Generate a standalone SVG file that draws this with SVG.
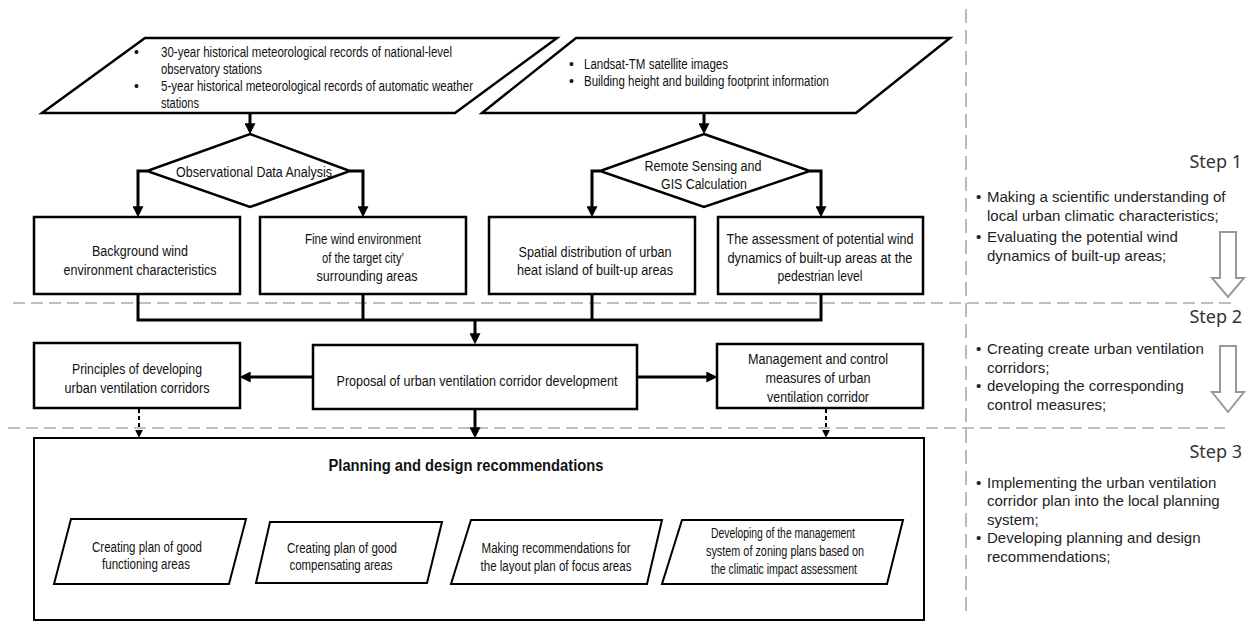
<svg xmlns="http://www.w3.org/2000/svg" width="1251" height="622" viewBox="0 0 1251 622">
  <defs>
    <style>
      .box{fill:#fff;stroke:#000;stroke-width:2.5}
      .sbox{fill:#fff;stroke:#000;stroke-width:2}
      .t{font-family:"Liberation Sans",Arial,sans-serif;fill:#111;dominant-baseline:central}
      .c{text-anchor:middle}
      .f13{font-size:14px}
      .f14{font-size:15.5px}
      .title{font-size:16px;font-weight:bold}
      .con{fill:none;stroke:#000;stroke-width:3}
      .thin{fill:none;stroke:#000;stroke-width:1.6}
      .dash{fill:none;stroke:#000;stroke-width:2;stroke-dasharray:4 3}
      .guide{fill:none;stroke:#aaa;stroke-width:1.6}
      .gh{stroke-dasharray:12 6}
      .gv{stroke-dasharray:14 7}
      .side{font-family:"Liberation Sans",Arial,sans-serif;font-size:15px;fill:#222;dominant-baseline:central}
      .step{font-family:"Noto Sans","Open Sans",sans-serif;font-size:18px;fill:#333;text-anchor:end}
      .hollow{fill:#fff;stroke:#999;stroke-width:2}
    </style>
    <marker id="ah" viewBox="0 0 10 10" refX="7" refY="5" markerWidth="11" markerHeight="11" markerUnits="userSpaceOnUse" orient="auto">
      <path d="M0,0 L10,5 L0,10 z" fill="#000"/>
    </marker>
    <marker id="ahs" viewBox="0 0 10 10" refX="9" refY="5" markerWidth="8" markerHeight="8" markerUnits="userSpaceOnUse" orient="auto">
      <path d="M0,0 L10,5 L0,10 z" fill="#000"/>
    </marker>
  </defs>

  <!-- stage separators -->
  <g id="guides">
    <line class="guide gh" x1="13" y1="303" x2="1237" y2="303"/>
    <line class="guide gh" x1="8" y1="428" x2="1225" y2="428"/>
    <line class="guide gv" x1="966" y1="9" x2="966" y2="615"/>
  </g>

  <!-- connectors -->
  <g id="connectors">
    <line class="con" x1="250" y1="113" x2="250" y2="131" marker-end="url(#ah)"/>
    <line class="con" x1="704" y1="113" x2="704" y2="131" marker-end="url(#ah)"/>
    <polyline class="con" points="147,171 138,171 138,214" marker-end="url(#ah)"/>
    <polyline class="con" points="350,171 363,171 363,214" marker-end="url(#ah)"/>
    <polyline class="con" points="600,171 592,171 592,214" marker-end="url(#ah)"/>
    <polyline class="con" points="810,171 821,171 821,214" marker-end="url(#ah)"/>
    <polyline class="con" points="138,294 138,320 821,320 821,294"/>
    <line class="con" x1="363" y1="294" x2="363" y2="320"/>
    <line class="con" x1="592" y1="294" x2="592" y2="320"/>
    <line class="con" x1="475" y1="320" x2="475" y2="341" marker-end="url(#ah)"/>
    <line class="con" x1="313" y1="377" x2="243" y2="377" marker-end="url(#ah)"/>
    <line class="con" x1="637" y1="377" x2="714" y2="377" marker-end="url(#ah)"/>
    <line class="con" x1="475" y1="409" x2="475" y2="435" marker-end="url(#ah)"/>
    <line class="dash" x1="139" y1="409" x2="139" y2="437" marker-end="url(#ahs)"/>
    <line class="dash" x1="826" y1="409" x2="826" y2="437" marker-end="url(#ahs)"/>
    <polyline class="thin" points="154,519 154,485 826,485 826,519" marker-end="url(#ahs)"/>
    <line class="thin" x1="154" y1="486" x2="154" y2="518" marker-end="url(#ahs)"/>
    <line class="thin" x1="351" y1="485" x2="351" y2="521" marker-end="url(#ahs)"/>
    <line class="thin" x1="557" y1="485" x2="557" y2="519" marker-end="url(#ahs)"/>
  </g>

  <!-- input data -->
  <g id="obs-data">
    <polygon class="box" points="145,38 557,38 455,113 42,113"/>
    <text class="t f13" x="134" y="52">•</text>
    <text class="t f13" x="161" y="52" textLength="291" lengthAdjust="spacingAndGlyphs">30-year historical meteorological records of national-level</text>
    <text class="t f13" x="161" y="69" textLength="101" lengthAdjust="spacingAndGlyphs">observatory stations</text>
    <text class="t f13" x="134" y="86">•</text>
    <text class="t f13" x="161" y="86" textLength="312" lengthAdjust="spacingAndGlyphs">5-year historical meteorological records of automatic weather</text>
    <text class="t f13" x="161" y="103" textLength="38" lengthAdjust="spacingAndGlyphs">stations</text>
  </g>
  <g id="rs-data">
    <polygon class="box" points="576,38 950,38 856,113 482,113"/>
    <text class="t f13" x="569" y="64">•</text>
    <text class="t f13" x="584" y="64" textLength="144" lengthAdjust="spacingAndGlyphs">Landsat-TM satellite images</text>
    <text class="t f13" x="569" y="81">•</text>
    <text class="t f13" x="584" y="81" textLength="245" lengthAdjust="spacingAndGlyphs">Building height and building footprint information</text>
  </g>

  <!-- analysis steps -->
  <g id="obs-analysis">
    <polygon class="box" points="250,134 350,171 250,207 147,171"/>
    <text class="t f14 c" x="254" y="171" textLength="156" lengthAdjust="spacingAndGlyphs">Observational Data Analysis</text>
  </g>
  <g id="rs-analysis">
    <polygon class="box" points="704,134 810,171 704,207 600,171"/>
    <text class="t f14 c" x="703" y="165" textLength="117" lengthAdjust="spacingAndGlyphs">Remote Sensing and</text>
    <text class="t f14 c" x="704" y="183" textLength="86" lengthAdjust="spacingAndGlyphs">GIS Calculation</text>
  </g>

  <!-- step 1 results -->
  <g id="background-wind">
    <rect class="box" x="34" y="217" width="206" height="77"/>
    <text class="t f14 c" x="140" y="250" textLength="96" lengthAdjust="spacingAndGlyphs">Background wind</text>
    <text class="t f14 c" x="140" y="269" textLength="153" lengthAdjust="spacingAndGlyphs">environment characteristics</text>
  </g>
  <g id="fine-wind">
    <rect class="box" x="260" y="217" width="206" height="77"/>
    <text class="t f14 c" x="363" y="238" textLength="116" lengthAdjust="spacingAndGlyphs">Fine wind environment</text>
    <text class="t f14 c" x="363" y="257" textLength="82" lengthAdjust="spacingAndGlyphs">of the target city’</text>
    <text class="t f14 c" x="367" y="275" textLength="101" lengthAdjust="spacingAndGlyphs">surrounding areas</text>
  </g>
  <g id="heat-island">
    <rect class="box" x="489" y="217" width="206" height="77"/>
    <text class="t f14 c" x="595" y="251" textLength="153" lengthAdjust="spacingAndGlyphs">Spatial distribution of urban</text>
    <text class="t f14 c" x="595" y="269" textLength="156" lengthAdjust="spacingAndGlyphs">heat island of built-up areas</text>
  </g>
  <g id="wind-dynamics">
    <rect class="box" x="718" y="217" width="205" height="77"/>
    <text class="t f14 c" x="820" y="238" textLength="187" lengthAdjust="spacingAndGlyphs">The assessment of potential wind</text>
    <text class="t f14 c" x="820" y="257" textLength="185" lengthAdjust="spacingAndGlyphs">dynamics of built-up areas at the</text>
    <text class="t f14 c" x="820" y="275" textLength="85" lengthAdjust="spacingAndGlyphs">pedestrian level</text>
  </g>

  <!-- step 2 -->
  <g id="principles">
    <rect class="box" x="34" y="343" width="206" height="65"/>
    <text class="t f14 c" x="137" y="368" textLength="130" lengthAdjust="spacingAndGlyphs">Principles of developing</text>
    <text class="t f14 c" x="137" y="387" textLength="145" lengthAdjust="spacingAndGlyphs">urban ventilation corridors</text>
  </g>
  <g id="proposal">
    <rect class="box" x="313" y="345" width="324" height="64"/>
    <text class="t f14 c" x="477" y="380" textLength="281" lengthAdjust="spacingAndGlyphs">Proposal of urban ventilation corridor development</text>
  </g>
  <g id="management">
    <rect class="box" x="717" y="344" width="206" height="64"/>
    <text class="t f14 c" x="818" y="358" textLength="140" lengthAdjust="spacingAndGlyphs">Management and control</text>
    <text class="t f14 c" x="818" y="377" textLength="105" lengthAdjust="spacingAndGlyphs">measures of urban</text>
    <text class="t f14 c" x="818" y="396" textLength="102" lengthAdjust="spacingAndGlyphs">ventilation corridor</text>
  </g>

  <!-- step 3 -->
  <g id="recommendations">
    <rect class="sbox" x="34" y="438" width="890" height="182"/>
    <text class="t title c" x="466" y="465" textLength="275" lengthAdjust="spacingAndGlyphs">Planning and design recommendations</text>
  </g>
  <g id="functioning-areas">
    <polygon class="sbox" points="71,519 246,519 229,584 54,584"/>
    <text class="t f13 c" x="147" y="547" textLength="110" lengthAdjust="spacingAndGlyphs">Creating plan of good</text>
    <text class="t f13 c" x="146" y="564" textLength="88" lengthAdjust="spacingAndGlyphs">functioning areas</text>
  </g>
  <g id="compensating-areas">
    <polygon class="sbox" points="270,522 442,522 427,583 256,583"/>
    <text class="t f13 c" x="342" y="548" textLength="110" lengthAdjust="spacingAndGlyphs">Creating plan of good</text>
    <text class="t f13 c" x="341" y="565" textLength="103" lengthAdjust="spacingAndGlyphs">compensating areas</text>
  </g>
  <g id="focus-areas">
    <polygon class="sbox" points="471,520 662,520 647,584 451,584"/>
    <text class="t f13 c" x="556" y="548" textLength="149" lengthAdjust="spacingAndGlyphs">Making recommendations for</text>
    <text class="t f13 c" x="556" y="566" textLength="151" lengthAdjust="spacingAndGlyphs">the layout plan of focus areas</text>
  </g>
  <g id="zoning-system">
    <polygon class="sbox" points="682,520 903,520 887,584 662,584"/>
    <text class="t f13 c" x="783" y="533" textLength="144" lengthAdjust="spacingAndGlyphs">Developing of the management</text>
    <text class="t f13 c" x="785" y="551" textLength="158" lengthAdjust="spacingAndGlyphs">system of zoning plans based on</text>
    <text class="t f13 c" x="784" y="569" textLength="146" lengthAdjust="spacingAndGlyphs">the climatic impact assessment</text>
  </g>

  <!-- stage descriptions -->
  <g id="step1">
    <text class="step" x="1242" y="168">Step 1</text>
    <text class="side" x="976" y="196">•</text>
    <text class="side" x="987" y="196">Making a scientific understanding of</text>
    <text class="side" x="987" y="215">local urban climatic characteristics;</text>
    <text class="side" x="976" y="236">•</text>
    <text class="side" x="987" y="236">Evaluating the potential wind</text>
    <text class="side" x="987" y="255">dynamics of built-up areas;</text>
    <path class="hollow" d="M1220,232 H1236 V278 H1244 L1228,297 L1212,278 H1220 Z"/>
  </g>
  <g id="step2">
    <text class="step" x="1242" y="323">Step 2</text>
    <text class="side" x="976" y="348">•</text>
    <text class="side" x="987" y="348">Creating create urban ventilation</text>
    <text class="side" x="987" y="367">corridors;</text>
    <text class="side" x="976" y="385">•</text>
    <text class="side" x="987" y="385">developing the corresponding</text>
    <text class="side" x="987" y="404">control measures;</text>
    <path class="hollow" d="M1220,346 H1236 V392 H1244 L1228,412 L1212,392 H1220 Z"/>
  </g>
  <g id="step3">
    <text class="step" x="1242" y="458">Step 3</text>
    <text class="side" x="976" y="482">•</text>
    <text class="side" x="987" y="482">Implementing the urban ventilation</text>
    <text class="side" x="987" y="500">corridor plan into the local planning</text>
    <text class="side" x="987" y="519">system;</text>
    <text class="side" x="976" y="537">•</text>
    <text class="side" x="987" y="537">Developing planning and design</text>
    <text class="side" x="987" y="556">recommendations;</text>
  </g>
</svg>
